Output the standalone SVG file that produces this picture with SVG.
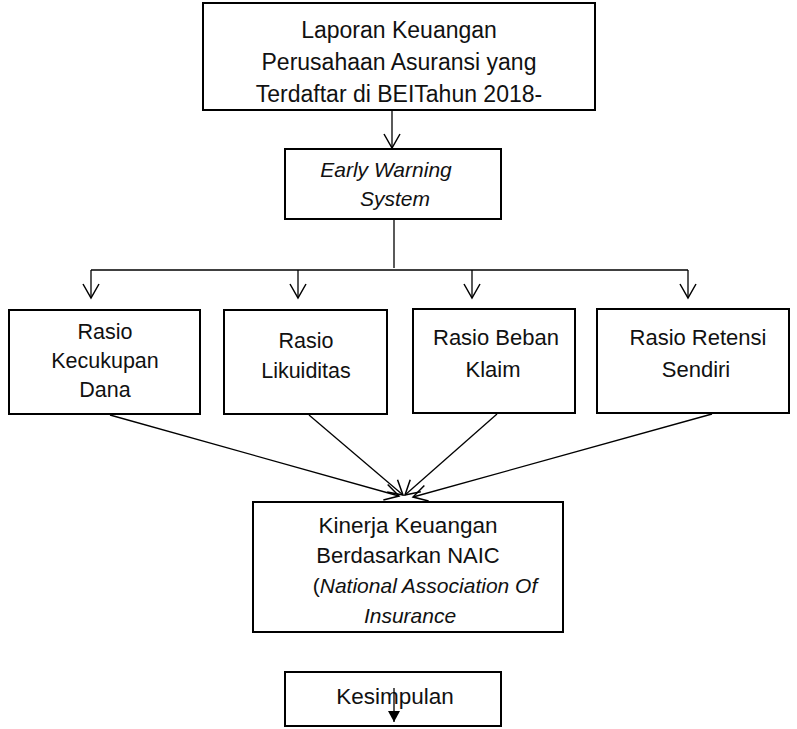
<svg xmlns="http://www.w3.org/2000/svg" width="797" height="729" viewBox="0 0 797 729">
<style>
.box{fill:#fff;stroke:#000;stroke-width:2}
.t{font-family:"Liberation Sans",Arial,sans-serif;fill:#111;text-anchor:middle}
.ln{stroke:#000;stroke-width:1.3;fill:none}
.it{font-style:italic}
</style>
<defs>
<marker id="open" viewBox="0 0 20 20" refX="18" refY="10" markerWidth="20" markerHeight="20" markerUnits="userSpaceOnUse" orient="auto">
<path d="M4,2 L18,10 L4,18" fill="none" stroke="#000" stroke-width="1.5"/>
</marker>
<marker id="fill" viewBox="0 0 12 12" refX="11" refY="6" markerWidth="12" markerHeight="12" markerUnits="userSpaceOnUse" orient="auto">
<path d="M0,0 L11,6 L0,12 Z" fill="#000"/>
</marker>
</defs>
<rect width="797" height="729" fill="#fff"/>
<g id="connectors">
<line class="ln" x1="392" y1="111" x2="392" y2="148" marker-end="url(#open)"/>
<line class="ln" x1="394" y1="220" x2="394" y2="268"/>
<line class="ln" x1="91" y1="270" x2="688" y2="270"/>
<line class="ln" x1="91" y1="270" x2="91" y2="298" marker-end="url(#open)"/>
<line class="ln" x1="298" y1="270" x2="298" y2="298" marker-end="url(#open)"/>
<line class="ln" x1="472" y1="270" x2="472" y2="298" marker-end="url(#open)"/>
<line class="ln" x1="688" y1="270" x2="688" y2="298" marker-end="url(#open)"/>
<line class="ln" x1="110" y1="415" x2="399" y2="496" marker-end="url(#open)"/>
<line class="ln" x1="309" y1="415" x2="403" y2="495" marker-end="url(#open)"/>
<line class="ln" x1="497" y1="414" x2="405" y2="495" marker-end="url(#open)"/>
<line class="ln" x1="712" y1="414" x2="413" y2="497" marker-end="url(#open)"/>
</g>
<g id="laporan">
<rect class="box" x="203" y="3" width="392" height="107"/>
<text class="t" font-size="23" x="399" y="38">Laporan Keuangan</text>
<text class="t" font-size="23" x="399" y="70">Perusahaan Asuransi yang</text>
<text class="t" font-size="23" x="399" y="102">Terdaftar di BEITahun 2018-</text>
</g>
<g id="ews">
<rect class="box" x="285" y="149" width="216" height="70"/>
<text class="t it" font-size="21" x="386" y="177">Early Warning</text>
<text class="t it" font-size="21" x="395" y="206">System</text>
</g>
<g id="kecukupan">
<rect class="box" x="9" y="310" width="191" height="104"/>
<text class="t" font-size="21.5" x="105" y="339">Rasio</text>
<text class="t" font-size="21.5" x="105" y="368">Kecukupan</text>
<text class="t" font-size="21.5" x="105" y="397">Dana</text>
</g>
<g id="likuiditas">
<rect class="box" x="224" y="310" width="163" height="104"/>
<text class="t" font-size="21.5" x="306" y="348">Rasio</text>
<text class="t" font-size="21.5" x="306" y="378">Likuiditas</text>
</g>
<g id="beban">
<rect class="box" x="413" y="309" width="162" height="104"/>
<text class="t" font-size="22" x="496" y="345">Rasio Beban</text>
<text class="t" font-size="22" x="493" y="377">Klaim</text>
</g>
<g id="retensi">
<rect class="box" x="597" y="309" width="192" height="104"/>
<text class="t" font-size="22" x="698" y="345">Rasio Retensi</text>
<text class="t" font-size="22" x="696" y="377">Sendiri</text>
</g>
<g id="kinerja">
<rect class="box" x="253" y="502" width="310" height="130"/>
<text class="t" font-size="22.5" x="408" y="533">Kinerja Keuangan</text>
<text class="t" font-size="22" x="408" y="563">Berdasarkan NAIC</text>
<text class="t" font-size="21" x="425" y="593">(<tspan class="it">National Association Of</tspan></text>
<text class="t it" font-size="21" x="410" y="623">Insurance</text>
</g>
<g id="kesimpulan">
<rect class="box" x="285" y="672" width="216" height="54"/>
<text class="t" font-size="22.5" x="395" y="704">Kesimpulan</text>
<line class="ln" x1="394" y1="688" x2="394" y2="722" marker-end="url(#fill)"/>
</g>
</svg>
